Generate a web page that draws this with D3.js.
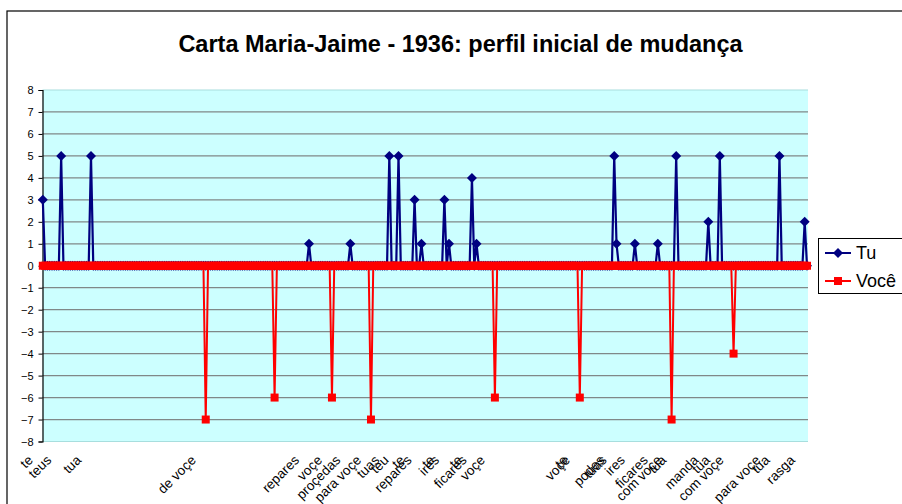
<!DOCTYPE html>
<html>
<head>
<meta charset="utf-8">
<script src="https://cdn.jsdelivr.net/npm/d3@7"></script>
<style>
  html, body { margin: 0; padding: 0; background: #ffffff; }
  svg { display: block; font-family: "Liberation Sans", Arial, sans-serif; }
</style>
</head>
<body>
<svg id="chart" width="902" height="504"></svg>
<script>
// ---- data ----
const categoryCount = 334;
const categoryLabels = [
  [0, "te"], [8, "teus"], [21, "tua"], [71, "de voçe"], [116, "repares"],
  [126, "voçe"], [134, "proçedas"], [143, "para voçe"], [151, "tuas"], [155, "teu"],
  [162, "te"], [165, "repares"], [175, "te"], [177, "ires"], [187, "te"],
  [189, "ficares"], [197, "voçe"], [233, "te"], [234, "voçe"], [249, "podes"],
  [250, "tuas"], [258, "ires"], [268, "ficares"], [274, "com voçe"], [276, "tua"],
  [290, "manda"], [295, "tua"], [301, "com voçe"], [317, "para voçe"], [321, "tua"],
  [332, "rasga"]
];
const tuValues = [
  [0, 3], [8, 5], [21, 5], [116, 1], [134, 1], [151, 5], [155, 5], [162, 3],
  [165, 1], [175, 3], [177, 1], [187, 4], [189, 1], [249, 5], [250, 1], [258, 1],
  [268, 1], [276, 5], [290, 2], [295, 5], [321, 5], [332, 2]
];
const voceValues = [
  [71, -7], [101, -6], [126, -6], [143, -7], [197, -6], [234, -6], [274, -7], [301, -4]
];
const yTicks = [-8, -7, -6, -5, -4, -3, -2, -1, 0, 1, 2, 3, 4, 5, 6, 7, 8];
const seriesNames = ["Tu", "Você"];
const titleText = "Carta Maria-Jaime - 1936: perfil inicial de mudança";

// ---- build full series (value 0 where nothing is marked) ----
const indices = d3.range(categoryCount);
function fullSeries(pairs) {
  const m = new Map(pairs);
  return indices.map(i => ({ i, v: m.has(i) ? m.get(i) : 0 }));
}
const tuSeries = fullSeries(tuValues);
const voceSeries = fullSeries(voceValues);

const svg = d3.select("#chart");

// outer chart border
svg.append("rect").attr("x", 7).attr("y", 11).attr("width", 1000).attr("height", 600)
  .attr("fill", "#ffffff").attr("stroke", "#000000").attr("stroke-width", 1.2);

const plot = { left: 42.5, right: 808, top: 90, bottom: 441.5 };

const x = d3.scalePoint().domain(indices).range([plot.left + 0.3, plot.right - 1]);
const y = d3.scaleLinear().domain([-8, 8]).range([plot.bottom, plot.top]);

// plot background
svg.append("rect").attr("x", plot.left).attr("y", plot.top)
  .attr("width", plot.right - plot.left).attr("height", plot.bottom - plot.top)
  .attr("fill", "#ccffff");

// gridlines
svg.append("g").selectAll("line").data(yTicks).join("line")
  .attr("x1", plot.left).attr("x2", plot.right)
  .attr("y1", d => y(d)).attr("y2", d => y(d))
  .attr("stroke", d => (d === 8 || d === -8) ? "#a8dede" : "#808888")
  .attr("stroke-width", 1.2);

// y axis
const yAxis = svg.append("g").attr("transform", `translate(${plot.left},0)`)
  .call(d3.axisLeft(y).tickValues(yTicks).tickSize(4).tickPadding(5).tickFormat(d3.format("d")));
yAxis.select(".domain").attr("stroke", "#000").attr("stroke-width", 1.2);
yAxis.selectAll(".tick line").attr("stroke", "#000");
yAxis.selectAll(".tick text").attr("font-size", 11).attr("fill", "#000")
  .attr("font-family", "Liberation Sans, Arial, sans-serif");

// category labels
svg.append("g").selectAll("text").data(categoryLabels).join("text")
  .attr("transform", d => `translate(${x(d[0]) - 9},${461}) rotate(-45)`)
  .attr("text-anchor", "end")
  .attr("font-size", 13.5)
  .attr("fill", "#000")
  .text(d => d[1]);

const line = d3.line().x(d => x(d.i)).y(d => y(d.v));
const diamond = "M0,-5L5,0L0,5L-5,0Z";
const square = "M-4,-4L4,-4L4,4L-4,4Z";

// Tu series
svg.append("path").datum(tuSeries).attr("d", line)
  .attr("fill", "none").attr("stroke", "#000080").attr("stroke-width", 2.2).attr("stroke-linejoin", "round");
svg.append("g").selectAll("path").data(tuSeries).join("path")
  .attr("transform", d => `translate(${x(d.i)},${y(d.v)})`)
  .attr("d", diamond).attr("fill", "#000080");

// Você series
svg.append("path").datum(voceSeries).attr("d", line)
  .attr("fill", "none").attr("stroke", "#ff0000").attr("stroke-width", 2).attr("stroke-linejoin", "round");
svg.append("g").selectAll("path").data(voceSeries).join("path")
  .attr("transform", d => `translate(${x(d.i)},${y(d.v)})`)
  .attr("d", square).attr("fill", "#ff0000");

// title
svg.append("text").attr("x", 460.5).attr("y", 52).attr("text-anchor", "middle")
  .attr("font-size", 23.5).attr("font-weight", "bold").attr("fill", "#000")
  .text(titleText);

// legend
const legend = svg.append("g");
legend.append("rect").attr("x", 818.5).attr("y", 238.5).attr("width", 120).attr("height", 55)
  .attr("fill", "#ffffff").attr("stroke", "#000").attr("stroke-width", 1);
const legendColors = ["#000080", "#ff0000"];
const legendShapes = [diamond, square];
const legendY = [253, 281];
seriesNames.forEach((name, k) => {
  legend.append("line").attr("x1", 825).attr("x2", 851).attr("y1", legendY[k]).attr("y2", legendY[k])
    .attr("stroke", legendColors[k]).attr("stroke-width", 2);
  legend.append("path").attr("transform", `translate(838,${legendY[k]})`)
    .attr("d", legendShapes[k]).attr("fill", legendColors[k]);
  legend.append("text").attr("x", 856).attr("y", legendY[k]).attr("dy", "0.36em")
    .attr("font-size", 18).attr("fill", "#000").text(name);
});
</script>
</body>
</html>
